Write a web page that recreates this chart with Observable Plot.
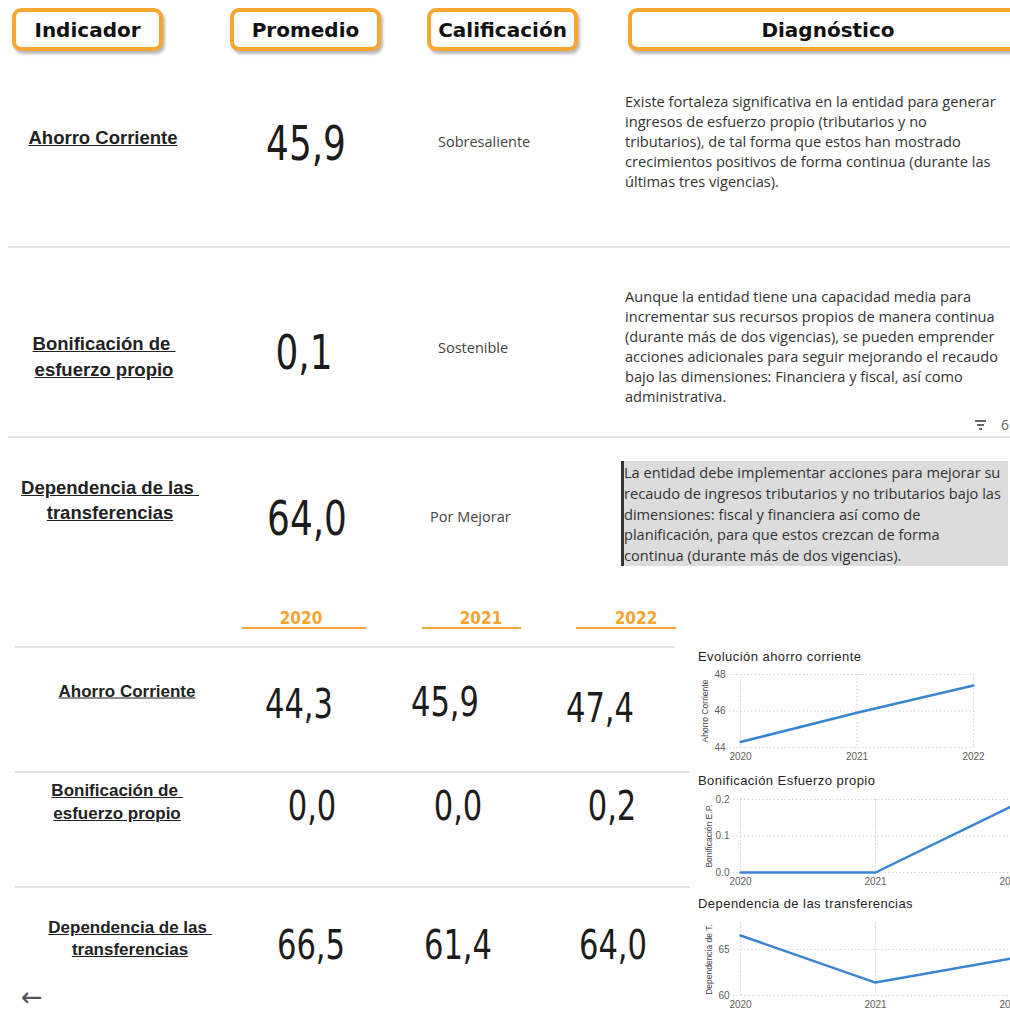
<!DOCTYPE html>
<html><head><meta charset="utf-8">
<script src="https://cdn.jsdelivr.net/npm/d3@7"></script>
<script src="https://cdn.jsdelivr.net/npm/@observablehq/plot@0.6"></script>
<style>
html,body{margin:0;padding:0;width:1010px;height:1013px;overflow:hidden;background:#fff;}
#root{position:relative;width:1010px;height:1013px;overflow:hidden;}
.abs{position:absolute;white-space:pre;}
.hdr{position:absolute;box-sizing:border-box;border:4px solid #F7A631;border-radius:9px;background:#fff;
  box-shadow:2px 3px 3px rgba(0,0,0,0.28);display:flex;align-items:center;justify-content:center;
  font-family:"DejaVu Sans",sans-serif;font-weight:bold;font-size:20px;color:#111;}
.lbl{font-family:"Liberation Sans",Arial,sans-serif;font-weight:bold;text-decoration:underline;color:#222;
  text-align:center;transform:translate(-50%,-50%);}
.big{font-family:"DejaVu Sans Condensed",sans-serif;color:#1c1c1c;transform:translate(-50%,-50%) scaleX(0.83);line-height:1;}
.cal{font-family:"Open Sans",sans-serif;font-size:14.5px;color:#444;transform:translateY(-50%);}
.diag{font-family:"Open Sans",sans-serif;color:#333;}
.sep{position:absolute;height:2px;background:#e4e4e4;}
.year{font-family:"DejaVu Sans Condensed",sans-serif;font-weight:bold;font-size:17px;color:#F5A431;transform:translate(-50%,-50%);}
.yline{position:absolute;height:2px;background:#F5A431;}
.ctitle{font-family:"Liberation Sans",Arial,sans-serif;font-size:13px;letter-spacing:0.45px;color:#252423;transform:translateY(-50%);}
.chart{position:absolute;}
</style></head>
<body><div id="root"></div>
<script>
// ---------- data ----------
const headers = ["Indicador", "Promedio", "Calificación", "Diagnóstico"];
const indicadores = [["Ahorro Corriente"], ["Bonificación de ", "esfuerzo propio"], ["Dependencia de las ", "transferencias"]];
const promedio = [45.9, 0.1, 64.0];
const calificacion = ["Sobresaliente", "Sostenible", "Por Mejorar"];
const diagnostico = [
  ["Existe fortaleza significativa en la entidad para generar",
   "ingresos de esfuerzo propio (tributarios y no",
   "tributarios), de tal forma que estos han mostrado",
   "crecimientos positivos de forma continua (durante las",
   "últimas tres vigencias)."],
  ["Aunque la entidad tiene una capacidad media para",
   "incrementar sus recursos propios de manera continua",
   "(durante más de dos vigencias), se pueden emprender",
   "acciones adicionales para seguir mejorando el recaudo",
   "bajo las dimensiones: Financiera y fiscal, así como",
   "administrativa."],
  ["La entidad debe implementar acciones para mejorar su",
   "recaudo de ingresos tributarios y no tributarios bajo las",
   "dimensiones: fiscal y financiera así como de",
   "planificación, para que estos crezcan de forma",
   "continua (durante más de dos vigencias)."]
];
const years = [2020, 2021, 2022];
const ahorro = [44.3, 45.9, 47.4];
const bonificacion = [0.0, 0.0, 0.18];
const dependencia = [66.5, 61.4, 64.0];
const chartTitles = ["Evolución ahorro corriente", "Bonificación Esfuerzo propio", "Dependencia de las transferencias"];
const yLabels = ["Ahorro Corriente", "Bonificación E.P.", "Dependencia de T."];
const yTicks = [[44, 46, 48], [0, 0.1, 0.2], [60, 65]];
const yDomains = [[44, 48], [0, 0.2], [60, 67.8]];

// ---------- layout ----------
const root = document.getElementById("root");
const fmt = v => v.toFixed(1).replace(".", ",");
function el(cls, css, html) {
  const d = document.createElement("div");
  d.className = cls;
  Object.assign(d.style, css);
  if (html != null) d.innerHTML = html;
  root.appendChild(d);
  return d;
}
const hdrBoxes = [[12, 151], [230, 151], [427, 151], [628, 400]];
headers.forEach((h, i) => el("hdr", {left: hdrBoxes[i][0] + "px", top: "8px", width: hdrBoxes[i][1] + "px", height: "43px"}, h));

// top table
const topRows = [
  {lbl: [103, 138], lh: 26, big: [306, 143], cal: [438, 141], dy: 101},
  {lbl: [104, 357], lh: 26, big: [304, 352], cal: [438, 347], dy: 296},
  {lbl: [110, 500], lh: 25, big: [307, 518], cal: [430, 516], dy: 472}
];
// diag box
el("abs", {left: "621px", top: "461px", width: "387px", height: "105px", background: "#dcdcdc", borderLeft: "3px solid #333", boxSizing: "border-box"});
topRows.forEach((r, i) => {
  el("abs lbl", {left: r.lbl[0] + "px", top: r.lbl[1] + "px", fontSize: "18.5px", lineHeight: r.lh + "px"}, indicadores[i].join("<br>"));
  el("abs big", {left: r.big[0] + "px", top: r.big[1] + "px", fontSize: "48px"}, fmt(promedio[i]));
  el("abs cal", {left: r.cal[0] + "px", top: r.cal[1] + "px"}, calificacion[i]);
  el("abs diag", {left: (i === 2 ? 624 : 625) + "px", top: (r.dy - 10) + "px", fontSize: "14.6px", lineHeight: (i === 2 ? 20.8 : 20) + "px"}, diagnostico[i].join("<br>"));
});
el("sep", {left: "8px", top: "246px", width: "1002px"});
el("sep", {left: "8px", top: "436px", width: "1002px"});
// filter icon
el("abs", {left: "975px", top: "420px", width: "11px", height: "1.5px", background: "#666"});
el("abs", {left: "977px", top: "424px", width: "7px", height: "1.5px", background: "#666"});
el("abs", {left: "979px", top: "428px", width: "3px", height: "1.5px", background: "#666"});
el("abs", {left: "1001px", top: "415px", fontFamily: "Open Sans", fontSize: "14px", color: "#666"}, "6");

// year headers
const yearPos = [[301, 242, 124], [481, 422, 99], [636, 576, 100]];
years.forEach((y, i) => {
  el("abs year", {left: yearPos[i][0] + "px", top: "618px"}, String(y));
  el("yline", {left: yearPos[i][1] + "px", top: "627px", width: yearPos[i][2] + "px"});
});
el("sep", {left: "15px", top: "646px", width: "660px"});
el("sep", {left: "15px", top: "771px", width: "675px"});
el("sep", {left: "15px", top: "886px", width: "675px"});

const series = [ahorro, bonificacion, dependencia];
const botRows = [
  {lbl: [127, 691], lh: 23, vals: [[299, 704], [445, 702], [600, 708]]},
  {lbl: [117, 802], lh: 23, vals: [[312, 806], [458, 806], [612, 806]]},
  {lbl: [130, 939], lh: 22, vals: [[311, 945], [458, 945], [613, 945]]}
];
botRows.forEach((r, i) => {
  el("abs lbl", {left: r.lbl[0] + "px", top: r.lbl[1] + "px", fontSize: "17px", lineHeight: r.lh + "px"}, indicadores[i].join("<br>"));
  series[i].forEach((v, j) => el("abs big", {left: r.vals[j][0] + "px", top: r.vals[j][1] + "px", fontSize: "41px"}, fmt(v)));
});
el("abs", {left: "21px", top: "984px", fontFamily: "DejaVu Sans", fontSize: "26px", color: "#555", lineHeight: "26px"}, "←");

// ---------- charts ----------
const chartBox = [
  {title: [698, 656], left: 689, top: 664, frameW: 248, insetL: 11, insetR: 4, mr: 33},
  {title: [698, 780], left: 693, top: 789, frameW: 281, insetL: 7, insetR: 4, mr: 20},
  {title: [698, 903], left: 693, top: 913, frameW: 281, insetL: 7, insetR: 4, mr: 20}
];
const ML = 40, MT = 10, MB = 22;
chartBox.forEach((c, i) => {
  el("abs ctitle", {left: c.title[0] + "px", top: c.title[1] + "px"}, chartTitles[i]);
  const plotH = i === 2 ? 72 : 73;
  const data = years.map((y, j) => ({year: y, value: series[i][j]}));
  const tf = i === 1 ? (d => d.toFixed(1)) : (d => String(d));
  const chart = Plot.plot({
    width: ML + c.frameW + c.mr,
    height: MT + plotH + MB,
    marginLeft: ML, marginRight: c.mr, marginTop: MT, marginBottom: MB,
    style: {fontFamily: "Liberation Sans, Arial, sans-serif", fontSize: "10px", color: "#605E5C", background: "transparent", overflow: "visible"},
    x: {domain: [2020, 2022], insetLeft: c.insetL, insetRight: c.insetR},
    y: {domain: yDomains[i]},
    marks: [
      Plot.gridX(years, {stroke: "#c8c8c8", strokeOpacity: 1, strokeDasharray: "1.2,2.5"}),
      Plot.gridY(yTicks[i], {stroke: "#c8c8c8", strokeOpacity: 1, strokeDasharray: "1.2,2.5"}),
      Plot.axisX(years, {tickSize: 0, tickPadding: 5, tickFormat: d => String(d), label: null, fontSize: 10}),
      Plot.axisY(yTicks[i], {tickSize: 0, tickPadding: 4, tickFormat: tf, label: null, fontSize: 10}),
      Plot.text([yLabels[i]], {frameAnchor: "left", dx: -24, rotate: -90, textAnchor: "middle", text: d => d, fontSize: 8.5, fill: "#444"}),
      Plot.lineY(data, {x: "year", y: "value", stroke: "#3a84d1", strokeWidth: 2.5})
    ]
  });
  chart.classList.add("chart");
  chart.style.left = c.left + "px";
  chart.style.top = c.top + "px";
  root.appendChild(chart);
});
</script>
</body></html>
